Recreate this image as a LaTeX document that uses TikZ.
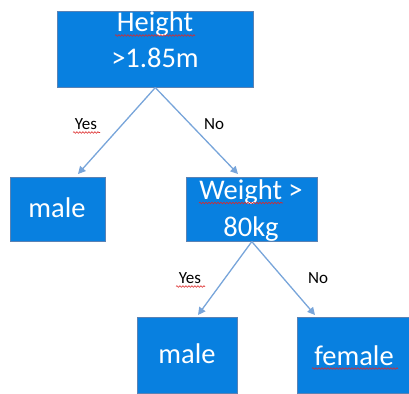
\documentclass[tikz,border=0pt]{standalone}
\usepackage{fontspec}
\setmainfont{Carlito}
\usetikzlibrary{arrows.meta,decorations.pathmorphing}
\definecolor{boxblue}{RGB}{8,128,224}
\definecolor{boxedge}{RGB}{90,130,180}
\definecolor{arrowblue}{RGB}{120,165,218}
\definecolor{squig}{RGB}{220,40,40}
\tikzset{
  dbox/.style={draw=boxedge, line width=0.6pt, fill=boxblue, inner sep=0pt, anchor=north west},
  btext/.style={text=white, font=\fontsize{28.5}{36}\selectfont, inner sep=0pt, align=center, anchor=base},
  elabel/.style={text=black, font=\fontsize{17}{20}\selectfont, inner sep=0pt, anchor=base},
  conn/.style={draw=arrowblue, line width=1.3pt, -{Triangle[length=7.5pt,width=7.5pt]}},
  wavy/.style={draw=squig, line width=0.6pt, decorate, decoration={snake, segment length=3pt, amplitude=0.8pt}}
}
\begin{document}
\begin{tikzpicture}[x=1pt,y=-1pt]
\useasboundingbox (0,0) rectangle (409,393);
% boxes
\node[dbox, minimum width=196pt, minimum height=76pt] (root) at (57,11) {};
\node[dbox, minimum width=95pt, minimum height=64pt] (male1) at (10,177) {};
\node[dbox, minimum width=131pt, minimum height=64pt] (weight) at (186,177) {};
\node[dbox, minimum width=100pt, minimum height=76pt] (male2) at (137,317) {};
\node[dbox, minimum width=114pt, minimum height=76pt] (female) at (297,317) {};
% texts
\node[btext] (rootT1) at (155,32) {Height};
\node[btext] (rootT2) at (155,68) {>1.85m};
\node[btext] (male1T) at (57,217) {male};
\node[btext] (weightT1) at (251,199) {Weight >};
\node[btext] (weightT2) at (251,236) {80kg};
\node[btext] (male2T) at (187,363) {male};
\node[btext] (femaleT) at (354,365) {female};
% connector tips
\coordinate (t1) at (78,174);
\coordinate (t2) at (238,174);
\coordinate (t3) at (198,315);
\coordinate (t4) at (315,315);
\draw[conn] (root.south) -- (t1);
\draw[conn] (root.south) -- (t2);
\draw[conn] (weight.south) -- (t3);
\draw[conn] (weight.south) -- (t4);
% edge labels
\node[elabel] (y1) at (86,129) {Yes};
\node[elabel] (n1) at (214,129) {No};
\node[elabel] (y2) at (190,283) {Yes};
\node[elabel] (n2) at (318,283) {No};
% spell-check squiggles
\draw[wavy] (115,35.5) -- (195,35.5);
\draw[wavy] (73,132.5) -- (100,132.5);
\draw[wavy] (199,203) -- (283,203);
\draw[wavy] (176,286.5) -- (205,286.5);
\draw[wavy] (312,368.5) -- (398,368.5);
\end{tikzpicture}
\end{document}
